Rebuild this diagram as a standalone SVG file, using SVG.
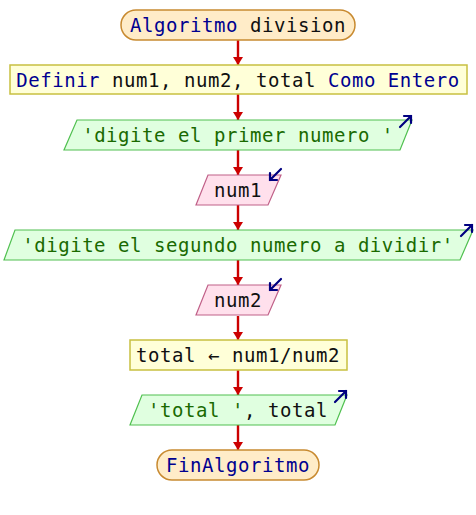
<svg xmlns="http://www.w3.org/2000/svg" width="476" height="515" viewBox="0 0 476 515">
  <style>
    text { font-family: "DejaVu Sans Mono", "Liberation Mono", monospace; font-size: 19px; letter-spacing: 0.55px; text-anchor: middle; dominant-baseline: central; }
    .kw { fill: #000090; }
    .var { fill: #101010; }
    .str { fill: #1a6a00; }
    .term { fill: #ffecc8; stroke: #c88a30; stroke-width: 1.5; }
    .proc { fill: #ffffd8; stroke: #c8c040; stroke-width: 1.5; }
    .out { fill: #e0ffe0; stroke: #50c050; stroke-width: 1.2; }
    .inp { fill: #ffe0ec; stroke: #c06088; stroke-width: 1.2; }
    .flow { stroke: #cc0000; stroke-width: 2.4; fill: none; marker-end: url(#ah); }
    .io { stroke: #000080; stroke-width: 2.2; fill: none; stroke-linecap: round; stroke-linejoin: miter; }
  </style>
  <defs>
    <marker id="ah" viewBox="0 0 8 10" refX="8" refY="5" markerWidth="3.4" markerHeight="4.2" orient="auto" markerUnits="strokeWidth">
      <path d="M0,0 L8,5 L0,10 Z" fill="#cc0000"/>
    </marker>
  </defs>

  <g id="connectors">
    <line class="flow" x1="238" y1="40" x2="238" y2="65"/>
    <line class="flow" x1="238" y1="94" x2="238" y2="120"/>
    <line class="flow" x1="238" y1="150" x2="238" y2="175"/>
    <line class="flow" x1="238" y1="205" x2="238" y2="230"/>
    <line class="flow" x1="238" y1="260" x2="238" y2="285"/>
    <line class="flow" x1="238" y1="316" x2="238" y2="340"/>
    <line class="flow" x1="238" y1="370" x2="238" y2="395"/>
    <line class="flow" x1="238" y1="425" x2="238" y2="450"/>
  </g>

  <g id="start">
    <rect class="term" x="121" y="10" width="234" height="30" rx="15"/>
    <text x="238" y="25"><tspan class="kw">Algoritmo</tspan><tspan class="var"> division</tspan></text>
  </g>

  <g id="define">
    <rect class="proc" x="10" y="65" width="457" height="29"/>
    <text x="238" y="79.5"><tspan class="kw">Definir</tspan><tspan class="var"> num1, num2, total </tspan><tspan class="kw">Como Entero</tspan></text>
  </g>

  <g id="write1">
    <polygon class="out" points="77,120 412,120 400,150 64,150"/>
    <text x="238" y="135" class="str">'digite el primer numero '</text>
    <path class="io" d="M400,127 L411,116 M404,116 L411,116 L411,123"/>
  </g>

  <g id="read1">
    <polygon class="inp" points="208,175 281,175 268,205 196,205"/>
    <text x="238" y="190" class="var">num1</text>
    <path class="io" d="M281,169 L270,180 M270,173 L270,180 L277,180"/>
  </g>

  <g id="write2">
    <polygon class="out" points="15,230 473,230 460,260 4,260"/>
    <text x="238" y="245" class="str">'digite el segundo numero a dividir'</text>
    <path class="io" d="M461,236 L472,225 M465,225 L472,225 L472,232"/>
  </g>

  <g id="read2">
    <polygon class="inp" points="208,285 281,285 268,315 196,315"/>
    <text x="238" y="300" class="var">num2</text>
    <path class="io" d="M281,279 L270,290 M270,283 L270,290 L277,290"/>
  </g>

  <g id="assign">
    <rect class="proc" x="130" y="340" width="217" height="30"/>
    <text x="238" y="355" class="var">total ← num1/num2</text>
  </g>

  <g id="write3">
    <polygon class="out" points="142,395 347,395 335,425 130,425"/>
    <text x="238" y="410"><tspan class="str">'total '</tspan><tspan class="var">, total</tspan></text>
    <path class="io" d="M335,402 L346,391 M339,391 L346,391 L346,398"/>
  </g>

  <g id="end">
    <rect class="term" x="157" y="450" width="162" height="30" rx="15"/>
    <text x="238" y="465" class="kw">FinAlgoritmo</text>
  </g>
</svg>
